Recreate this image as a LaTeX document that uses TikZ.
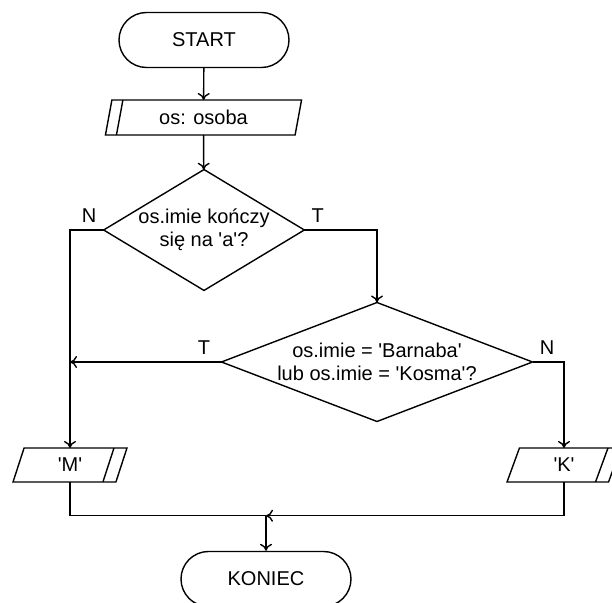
\documentclass[tikz,border=0pt]{standalone}
\usepackage{fontspec}
\setmainfont{Liberation Sans}
\usetikzlibrary{positioning,shapes.geometric,arrows.meta}
\newcommand{\q}{\textquotesingle}

\begin{document}
\begin{tikzpicture}[x=0.5pt,y=-0.5pt, line width=0.7pt, font=\fontsize{10}{11.5}\selectfont,
  term/.style={draw, rounded corners=13.75pt, minimum width=85pt, minimum height=27.5pt},
  io/.style={draw, trapezium, trapezium left angle=78, trapezium right angle=102, trapezium stretches=true, inner sep=0pt, outer sep=0pt},
  decision/.style={draw, diamond, align=center, inner sep=0pt, outer sep=0pt},
  arr/.style={-{To[length=3.5pt,width=6pt]}}]
\useasboundingbox (0,0) rectangle (612,603);
\node[term] (start) at (204,40) {START};
\node[io, minimum width=98.5pt, minimum height=17.5pt] (in) at (203.5,117.5) {os: osoba};
\node[decision, aspect=1.66, minimum width=99pt, minimum height=59.5pt] (d1) at (204,230) {os.imie kończy\\się na \q a\q ?};
\node[decision, aspect=2.61, minimum width=155.5pt, minimum height=59.5pt] (d2) at (377,362) {os.imie = \q Barnaba\q\\lub os.imie = \q Kosma\q ?};
\node[io, minimum width=57pt, minimum height=17pt] (m) at (70,465) {\q M\q};
\node[io, minimum width=57pt, minimum height=17pt] (k) at (564,465) {\q K\q};
\node[term] (stop) at (266,579) {KONIEC};
\coordinate[above=17.5pt of stop.north] (join);
\draw ([xshift=5.5pt]in.bottom left corner) -- ([xshift=5.5pt]in.top left corner);
\draw ([xshift=-6.5pt]m.bottom right corner) -- ([xshift=-6.5pt]m.top right corner);
\draw ([xshift=-6.5pt]k.bottom right corner) -- ([xshift=-6.5pt]k.top right corner);
\draw[arr] (start) -- (in);
\draw[arr] (in) -- (d1);
\draw[arr] (d1.west) node[above left] (n1) {N} -| (m.north);
\draw[arr] (d1.east) node[above right] (t1) {T} -| (d2.north);
\draw[arr] (d2.west) node[above left, xshift=-2pt] (t2) {T} -- (d2.west -| m.north);
\draw[arr] (d2.east) node[above right] (n2) {N} -| (k.north);
\draw (m.south) |- (join);
\draw[arr] (k.south) |- (join);
\draw[arr] (join) -- (stop.north);
\end{tikzpicture}
\end{document}
